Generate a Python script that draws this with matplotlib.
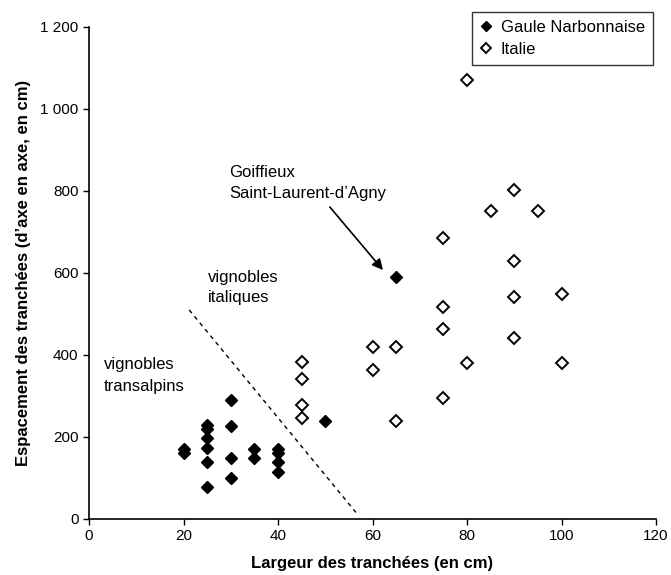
import matplotlib
matplotlib.use("Agg")
import matplotlib.pyplot as plt
from matplotlib.ticker import FuncFormatter

plt.rcParams['font.family'] = ['Liberation Sans', 'DejaVu Sans']

# Gaule Narbonnaise (filled diamonds)
gaule_x = [20, 20, 25, 25, 25, 25, 25, 25, 30, 30, 30, 30, 35, 35, 40, 40, 40, 40, 50, 65]
gaule_y = [170, 160, 229, 219, 197, 173, 140, 79, 290, 228, 148, 99, 170, 148, 170, 160, 140, 115, 240, 590]

# Italie (open diamonds)
italie_x = [45, 45, 45, 45, 60, 60, 65, 65, 75, 75, 75, 75, 80, 80, 85, 90, 90, 90, 90, 95, 100, 100]
italie_y = [384, 341, 278, 246, 419, 363, 419, 239, 685, 518, 463, 294, 1071, 381, 751, 802, 630, 541, 442, 751, 548, 381]

# separation line (dashed)
line_x = [21.2, 56.5]
line_y = [510, 16]

fig = plt.figure(figsize=(6.71, 5.75), dpi=100)
ax = fig.add_axes([89/671, 1-519/575, (656-89)/671, (519-27)/575])

ax.plot(line_x, line_y, ls=(0, (3, 3)), color='black', lw=1.0)
ax.plot(gaule_x, gaule_y, ls='none', marker='D', ms=6.5, mfc='black', mec='black',
        label='Gaule Narbonnaise', zorder=3)
ax.plot(italie_x, italie_y, ls='none', marker='D', ms=6.5, mfc='white', mec='black',
        mew=1.4, label='Italie', zorder=3)

ax.set_xlim(0, 120)
ax.set_ylim(0, 1200)
ax.set_xticks(range(0, 121, 20))
ax.set_yticks(range(0, 1201, 200))
ax.yaxis.set_major_formatter(FuncFormatter(lambda v, p: f"{int(v):,}".replace(",", " ")))
ax.tick_params(labelsize=11, direction='out', length=4, width=1)
for s in ['top', 'right']:
    ax.spines[s].set_visible(False)
for s in ['left', 'bottom']:
    ax.spines[s].set_linewidth(1.2)

ax.set_xlabel('Largeur des tranchées (en cm)', fontsize=12, fontweight='bold', labelpad=9)
ax.set_ylabel("Espacement des tranchées (d’axe en axe, en cm)", fontsize=12, fontweight='bold', labelpad=7)

ax.annotate('', xy=(62.6, 602), xytext=(50.6, 766),
            arrowprops=dict(arrowstyle='-|>', color='black', lw=1.2, mutation_scale=16))
ax.text(29.6, 846, 'Goiffieux', fontsize=12, va='center', ha='left')
ax.text(29.6, 795, 'Saint-Laurent-d’Agny', fontsize=12, va='center', ha='left')
ax.text(25.2, 590, 'vignobles', fontsize=12, va='center', ha='left')
ax.text(25.2, 541, 'italiques', fontsize=12, va='center', ha='left')
ax.text(3.2, 376, 'vignobles', fontsize=12, va='center', ha='left')
ax.text(3.2, 322, 'transalpins', fontsize=12, va='center', ha='left')

leg = ax.legend(loc='upper right', bbox_to_anchor=(653/671, 1-12/575), bbox_transform=fig.transFigure,
                fontsize=12, frameon=True, fancybox=False, edgecolor='black', handlelength=0.7,
                handletextpad=0.5, borderpad=0.5, labelspacing=0.4, borderaxespad=0, markerscale=0.8)
leg.get_frame().set_linewidth(1.0)

fig.savefig('out.png', dpi=100)
